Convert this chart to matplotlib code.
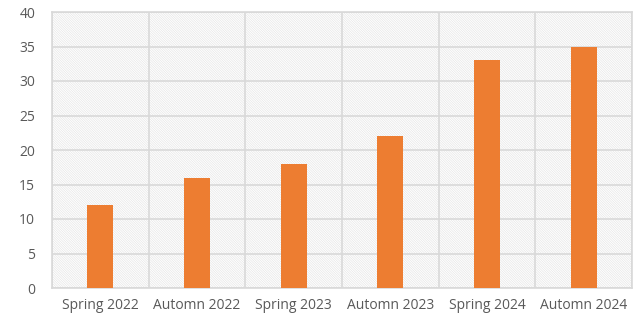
import matplotlib
matplotlib.use("Agg")
import matplotlib.pyplot as plt
from matplotlib.patches import Rectangle
import numpy as np

categories = ["Spring 2022", "Automn 2022", "Spring 2023", "Automn 2023", "Spring 2024", "Automn 2024"]
values = [12, 16, 18, 22, 33, 35]
yticks = [0, 5, 10, 15, 20, 25, 30, 35, 40]

plt.rcParams['font.family'] = ['Open Sans', 'DejaVu Sans']
plt.rcParams['hatch.linewidth'] = 0.5
plt.rcParams['hatch.color'] = '#e6e6e6'

fig = plt.figure(figsize=(6.41, 3.2), dpi=100)
ax = fig.add_axes([0.081, 0.1, 0.905, 0.8625])

x = np.arange(len(categories))
ax.set_xlim(-0.5, len(categories) - 0.5)
ax.set_ylim(0, 40)

bg = Rectangle((0, 0), 1, 1, transform=ax.transAxes, facecolor='white',
               edgecolor='#e6e6e6', hatch='\\' * 14, linewidth=0, zorder=0)
ax.add_patch(bg)

ax.bar(x, values, width=0.27, color='#ED7D31', zorder=3)

ax.set_yticks(yticks)
ax.set_xticks(x)
ax.set_xticklabels(categories)
ax.set_xticks(np.arange(len(categories) + 1) - 0.5, minor=True)
ax.grid(axis='y', which='major', color='#d9d9d9', linewidth=1.2, zorder=1)
ax.grid(axis='x', which='minor', color='#d9d9d9', linewidth=1.2, zorder=1)
ax.set_axisbelow(True)

for s in ax.spines.values():
    s.set_color('#d9d9d9')
    s.set_linewidth(1.2)

ax.tick_params(axis='both', which='both', length=0, labelsize=10, colors='#595959')
ax.tick_params(axis='y', pad=12)
ax.tick_params(axis='x', pad=7)

fig.savefig("out.png", dpi=100)
